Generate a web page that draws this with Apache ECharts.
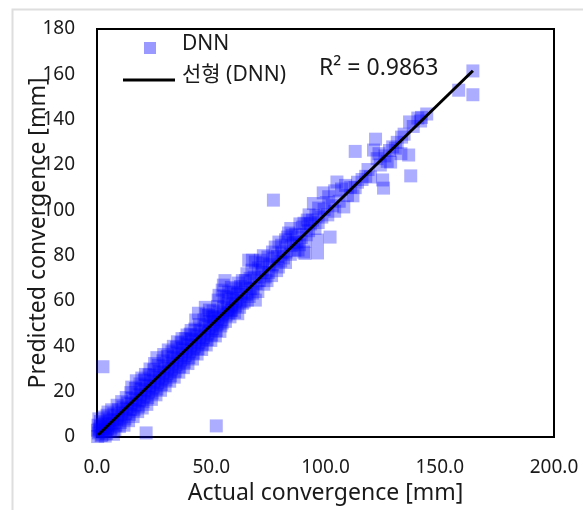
<!DOCTYPE html>
<html><head><meta charset="utf-8">
<script src="https://cdn.jsdelivr.net/npm/echarts@6/dist/echarts.min.js"></script>
<style>html,body{margin:0;padding:0;background:#fff}#c{width:583px;height:510px}</style>
</head><body><div id="c"></div>
<script>
// Actual convergence [mm] vs predicted convergence [mm] (DNN)
const dnnPoints = [
[0.3,0.2],[0.6,1.8],[1.0,3.5],[0.4,5.2],[1.5,6.8],[0.8,8],[1.8,0.6],[1.2,2.4],[0.2,3],[1.6,4.6],
[2.2,1],[2.6,2.8],[3.0,4.4],[3.4,6.2],[2.8,8.8],[3.6,0.4],[2.4,5.6],[3.8,3.2],
[4.2,1.6],[4.6,3.6],[5.0,5.4],[5.4,7.4],[4.4,9.6],[5.8,2.4],[4.8,11],
[6.2,4],[6.6,6],[7.0,8],[7.4,10.2],[6.4,12],[7.8,3.2],[7.2,1.2],
[8.2,5.2],[8.6,7.6],[9.0,9.6],[9.4,12],[8.8,14],[9.8,4.6],
[10.2,6.4],[10.6,8.8],[11,11],[11.4,13.2],[10.8,15.6],[11.8,5.2],
[12.2,8],[12.6,10.4],[13,12.6],[13.4,15],[12.8,17.4],[13.8,7.2],
[14.2,10],[14.6,12.2],[15,14.6],[15.4,17],[14.8,19.6],[15.8,9],[15.2,22],
[16.2,12],[16.6,14.2],[17,16.4],[17.4,19],[16.8,21.4],[17.2,24.8],[17.8,11.2],
[18.2,13.6],[18.6,16.2],[19,18.6],[19.4,21],[18.8,23.4],[19.8,12.8],[19.6,26],
[20.2,15.6],[20.6,18],[21,20.4],[21.4,22.8],[20.8,25.2],[21.8,14.4],[21.2,27.6],
[22.2,17.4],[22.6,20],[23,22.4],[23.4,24.8],[22.8,27.4],[23.8,16.6],[23.2,30],
[24.2,19.4],[24.6,22],[25,24.4],[25.4,27],[24.8,29.6],[25.8,18.6],[25.2,32.4],
[26.2,21.2],[26.6,24],[27,26.4],[27.4,29],[26.8,31.6],[27.8,20.6],[26.2,35],
[28.2,23.2],[28.6,26],[29,28.4],[29.4,31],[28.8,33.6],[29.8,22.6],[29.2,36.4],
[30.2,25.2],[30.6,28],[31,30.4],[31.4,33],[30.8,35.6],[31.8,24.6],[31.2,38.4],
[32.2,27],[32.6,30],[33,32.4],[33.4,35],[32.8,37.6],[33.8,26.4],[33.4,40],
[34.2,29],[34.6,32],[35,34.4],[35.4,37],[34.8,39.6],[35.8,28.6],[35.2,42],
[36.2,31],[36.6,34],[37,36.4],[37.4,39],[36.8,41.6],[37.8,30.6],[37.2,43.4],
[38.2,33],[38.6,36],[39,38.4],[39.4,41],[38.8,43.4],[39.8,32.4],[39.4,45],
[40.2,35],[40.6,37.8],[41,40.4],[41.4,43],[40.8,45.4],[41.8,34.4],[41.2,47],
[42.2,37],[42.6,39.8],[43,42.4],[43.4,45],[42.8,47.6],[43.8,36.6],[43.2,51.6],
[44.2,39],[44.6,41.8],[45,44.4],[45.4,47],[44.8,49.6],[45.8,38.6],[44.4,54.6],
[46.2,41],[46.6,43.8],[47,46.4],[47.4,49],[46.8,51.6],[47.8,40.6],[47.4,57.2],[47.8,54],
[48.2,43],[48.6,45.8],[49,48.4],[49.4,51],[48.8,53.6],[49.8,42.6],[49.2,56],
[50.2,45],[50.6,47.8],[51,50.4],[51.4,53],[50.8,55.6],[51.8,44.6],[50.4,53],
[52.2,47],[52.6,49.8],[53,52.4],[53.4,55],[52.8,57.6],[53.8,46.6],[53,60.4],[53.4,62.5],
[54.2,49],[54.6,51.8],[55,54.4],[55.4,57],[54.8,50.3],[55.3,67],[54.8,64.8],[55.6,62],
[56.2,51],[56.6,53.8],[57,56.4],[57.4,59],[56.8,61.6],[56,69],[57.5,54.7],[57.6,64],
[58.2,53],[58.6,55.8],[59,58.4],[59.4,61],[59,56],[58.8,66],[59.6,63.6],
[60.2,55],[60.6,57.8],[61,60.4],[61.4,63],[61.8,67.9],[60.8,65.4],[61.6,54.4],
[62.4,57.2],[63,60],[63.6,59],[63.2,63.5],[62.8,66.4],[63.6,69],
[64.4,59.6],[65,69],[65.4,63],[64.8,66.2],[65.8,60.4],[65.6,72],
[66.4,78],[66.6,62],[67.2,65.4],[67,70],[68,63.5],[67.8,73.6],
[68,78],[68.4,65.7],[69.3,77.2],[69.3,60.4],[68.8,70.5],[69.6,67.8],
[70.4,64.2],[71,69],[71.5,78],[71.8,72.4],[70.6,74.6],
[72.4,73.7],[72.4,76.7],[73,67.4],[73.6,70.6],[72.8,80],
[74.4,69],[75,72.6],[75.6,76],[74.8,79.4],
[76.8,75.9],[77.2,104.5],[76.4,71.2],[77.4,78.6],[76.8,81.6],
[78,83.8],[78.6,73.4],[79.4,75],[79,79.6],[79.6,86],
[80.4,77.6],[81,81.2],[80.8,84.6],[81.6,79],
[82.5,77],[82.5,87],[83.3,88.2],[83.8,90],[82.8,81.6],
[84.6,80.6],[85,84.4],[86,85.6],[85.4,89],[84.8,92],
[86.6,82.4],[87.4,86],[88,82.5],[87,89.4],
[88.6,84.8],[89.4,88],[90,92.6],[88.8,94],
[90.4,81.6],[91,81],[91,86.4],[91.6,89.2],[92,95.7],[90.6,94.3],
[92.6,91],[93.4,94],[92.8,98],
[94.3,95.7],[94.7,103],[95.4,92],[95.8,97.6],
[96.5,81.2],[96.5,86.9],[97,101],[96.8,94.6],
[99,107.7],[98.4,97],[99.4,100.4],
[101,98],[100.4,103.4],[102,88.2],[101.4,106],
[103,102],[104,108.6],[105,112.5],[104,99.6],
[106,104],[108,101.5],[108.8,111],[107,109.4],[109.6,106.6],
[111,110.2],[113,110],[113,126],[112,106.4],[114,112.4],
[116,113.6],[117.6,115],[119.7,114.7],[118.6,118],
[121,126.6],[121.9,131.4],[122.6,122.8],[124,120],[125,113.4],[123.4,125],
[125.4,109.8],[126,124],[127,121.6],[128.5,121.3],[129.4,128],[128,126.4],
[130.6,127.4],[131.4,130],[133,125],[133.3,132.3],[134.4,133.6],
[136.4,124.4],[136.8,139],[137.3,115.2],[138.4,137],
[140.4,140.7],[141.6,139.4],[142,141],[144.3,142.5],
[158.3,153],[164.5,161.5],[164.5,151],
[2.6,31],[21.5,1.8],[52.2,4.9]
];
const trendX = [0.5, 164.5];
const trendY = [0.9, 161.6];
const xTicks = [0, 50, 100, 150, 200];
const yTicks = [0, 20, 40, 60, 80, 100, 120, 140, 160, 180];
const seriesName = 'DNN';
const trendName = '선형 (DNN)';
const r2Text = 'R² = 0.9863';

const FONT = '"Noto Sans", "Noto Sans CJK KR", sans-serif';
const chart = echarts.init(document.getElementById('c'), null, {renderer: 'canvas'});
chart.setOption({
  animation: false,
  backgroundColor: '#fff',
  grid: {left: 97, right: 29, top: 29, bottom: 73, show: true, borderColor: '#000', borderWidth: 2, backgroundColor: 'transparent'},
  xAxis: {
    type: 'value', min: xTicks[0], max: xTicks[xTicks.length - 1], interval: xTicks[1] - xTicks[0],
    axisLine: {onZero: false, lineStyle: {color: '#000', width: 2}},
    axisTick: {show: false}, splitLine: {show: false},
    axisLabel: {margin: 21, color: '#1a1a1a', fontSize: 19, fontFamily: FONT, formatter: v => v.toFixed(1)},
    name: 'Actual convergence [mm]', nameLocation: 'middle', nameGap: 44,
    nameTextStyle: {color: '#1a1a1a', fontSize: 23, fontFamily: FONT}
  },
  yAxis: {
    type: 'value', min: yTicks[0], max: yTicks[yTicks.length - 1], interval: yTicks[1] - yTicks[0],
    axisLine: {onZero: false, lineStyle: {color: '#000', width: 2}},
    axisTick: {show: false}, splitLine: {show: false},
    axisLabel: {margin: 22, color: '#1a1a1a', fontSize: 19, fontFamily: FONT},
    name: 'Predicted convergence [mm]', nameLocation: 'middle', nameGap: 47, nameRotate: 90,
    nameMoveOverlap: false,
    nameTextStyle: {color: '#1a1a1a', fontSize: 23, fontFamily: FONT}
  },
  series: [
    {
      name: seriesName, type: 'scatter', data: dnnPoints, symbol: 'rect', symbolSize: 13,
      clip: false, itemStyle: {color: 'rgba(0,0,255,0.4)'}, z: 2
    },
    {
      name: trendName, type: 'line', data: trendX.map((x, i) => [x, trendY[i]]), symbol: 'none',
      lineStyle: {color: '#000', width: 3}, z: 3
    }
  ],
  graphic: [
    {type: 'rect', left: 10, top: 7, shape: {width: 600, height: 520}, style: {fill: 'none', stroke: '#dedede', lineWidth: 2}, z: -1, silent: true},
    {type: 'rect', left: 144, top: 42, shape: {width: 12, height: 12}, style: {fill: 'rgba(0,0,255,0.4)'}},
    {type: 'text', left: 182, top: 34, style: {text: seriesName, fontSize: 21, fontFamily: FONT, fill: '#1a1a1a'}},
    {type: 'line', shape: {x1: 123, y1: 80, x2: 175, y2: 80}, style: {stroke: '#000', lineWidth: 3}},
    {type: 'text', left: 182, top: 65, style: {text: trendName, fontSize: 21, fontFamily: FONT, fill: '#1a1a1a'}},
    {type: 'text', left: 319, top: 57, style: {text: r2Text, fontSize: 23, fontFamily: FONT, fill: '#1a1a1a'}}
  ]
});
</script></body></html>
